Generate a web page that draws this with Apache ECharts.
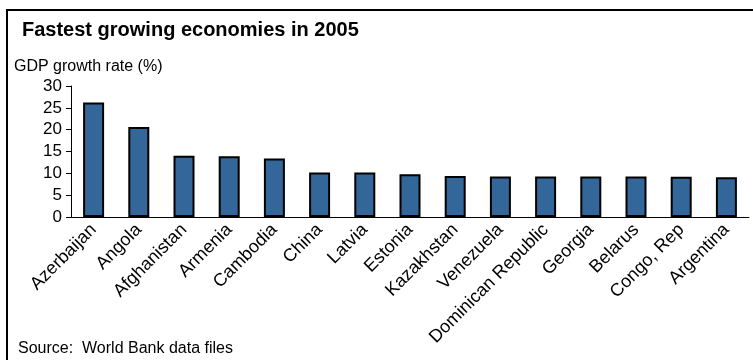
<!DOCTYPE html>
<html>
<head>
<meta charset="utf-8">
<script src="https://cdn.jsdelivr.net/npm/echarts@6/dist/echarts.min.js"></script>
<style>
  html, body { margin: 0; padding: 0; background: #fff; }
  #chart { width: 753px; height: 360px; }
</style>
</head>
<body>
<div id="chart"></div>
<script>
// GDP growth in 2005, fastest growing economies
const countries = ['Azerbaijan', 'Angola', 'Afghanistan', 'Armenia', 'Cambodia', 'China', 'Latvia',
  'Estonia', 'Kazakhstan', 'Venezuela', 'Dominican Republic', 'Georgia', 'Belarus', 'Congo, Rep', 'Argentina'];
const growthRates = [26.2, 20.6, 14.0, 13.9, 13.4, 10.2, 10.2, 9.8, 9.4, 9.3, 9.3, 9.3, 9.3, 9.2, 9.1];
const yTicks = [0, 5, 10, 15, 20, 25, 30];

const FONT = '"Liberation Sans", Arial, sans-serif';

const chart = echarts.init(document.getElementById('chart'), null, { renderer: 'canvas' });

chart.setOption({
  animation: false,
  backgroundColor: '#ffffff',
  title: {
    text: 'Fastest growing economies in 2005',
    left: 17,
    top: 15,
    textStyle: { fontFamily: FONT, fontSize: 20, fontWeight: 'bold', color: '#000' }
  },
  graphic: [
    {
      type: 'rect',
      shape: { x: 7, y: 10, width: 800, height: 400 },
      style: { fill: 'none', stroke: '#000', lineWidth: 2 },
      silent: true
    },
    {
      type: 'text',
      left: 14,
      top: 59,
      style: { text: 'GDP growth rate (%)', font: '16px ' + FONT, fill: '#000' }
    },
    {
      type: 'text',
      left: 18,
      top: 341,
      style: { text: 'Source:  World Bank data files', font: '16px ' + FONT, fill: '#000' }
    }
  ],
  grid: { left: 71, right: 4, top: 86, bottom: 143, containLabel: false },
  xAxis: {
    type: 'category',
    data: countries,
    axisLine: { lineStyle: { color: '#000', width: 1 } },
    axisTick: { length: 5, lineStyle: { color: '#000' } },
    axisLabel: {
      rotate: 45,
      margin: 10,
      interval: 0,
      color: '#000',
      fontFamily: FONT,
      fontSize: 18
    }
  },
  yAxis: {
    type: 'value',
    min: yTicks[0],
    max: yTicks[yTicks.length - 1],
    interval: yTicks[1] - yTicks[0],
    splitLine: { show: false },
    axisLine: { show: true, lineStyle: { color: '#000', width: 1 } },
    axisTick: { show: true, length: 5, lineStyle: { color: '#000' } },
    axisLabel: { margin: 9, color: '#000', fontFamily: FONT, fontSize: 17 }
  },
  series: [{
    type: 'bar',
    data: growthRates,
    barWidth: 21,
    itemStyle: { color: '#336699', borderColor: '#000', borderWidth: 2 }
  }]
});
</script>
</body>
</html>
